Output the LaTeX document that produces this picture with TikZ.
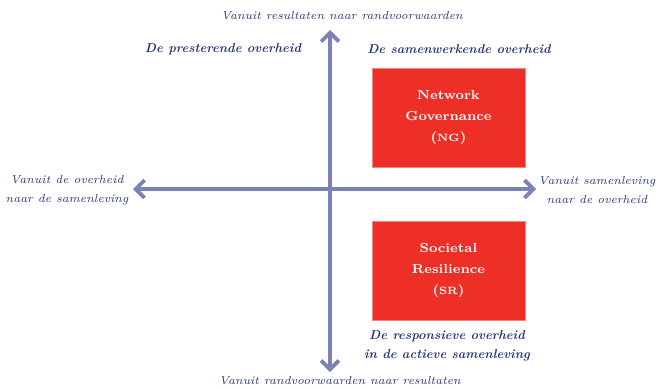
\documentclass[tikz,border=0pt]{standalone}
\usetikzlibrary{arrows.meta}
\definecolor{axisblue}{RGB}{124,130,182}
\definecolor{textblue}{RGB}{40,55,120}
\definecolor{boxred}{RGB}{238,47,39}
\begin{document}
\begin{tikzpicture}[
    x=0.02cm, y=-0.02cm,
    every node/.style={align=center},
    axis line/.style={draw=axisblue, line width=2.2pt, {Straight Barb[length=5pt,width=10pt]}-{Straight Barb[length=5pt,width=10pt]}},
    axis label/.style={text=textblue, font=\fontsize{6.6}{11}\selectfont\itshape},
    quadrant label/.style={text=textblue, font=\fontsize{7.3}{10.5}\selectfont\bfseries\itshape},
    red box/.style={fill=boxred, draw=boxred!60, text=white, minimum width=153*0.02cm, minimum height=99*0.02cm, font=\fontsize{7.4}{12}\selectfont\bfseries},
    ]
\useasboundingbox (0,0) rectangle (663,389);
\coordinate (top) at (330,30);
\coordinate (bottom) at (330,372);
\coordinate (left) at (133,189);
\coordinate (right) at (536,189);
\draw[axis line] (bottom) -- (top);
\draw[axis line] (left) -- (right);
\node[axis label] (topL) at (342,16) {Vanuit resultaten naar randvoorwaarden};
\node[axis label] (bottomL) at (340,381) {Vanuit randvoorwaarden naar resultaten};
\node[axis label] (leftL) at (67,190) {Vanuit de overheid\\naar de samenleving};
\node[axis label] (rightL) at (597,190) {Vanuit samenleving\\naar de overheid};
\node[quadrant label] (Q1) at (223,49) {De presterende overheid};
\node[quadrant label] (Q2) at (459,49) {De samenwerkende overheid};
\node[quadrant label] (Q4) at (447,346) {De responsieve overheid\\in de actieve samenleving};
\node[red box] (NG) at (448.5,117.5) {Network\\Governance\\({\fontsize{6}{12}\selectfont NG})};
\node[red box] (SR) at (448.5,270.5) {Societal\\Resilience\\({\fontsize{6}{12}\selectfont SR})};
\end{tikzpicture}
\end{document}
